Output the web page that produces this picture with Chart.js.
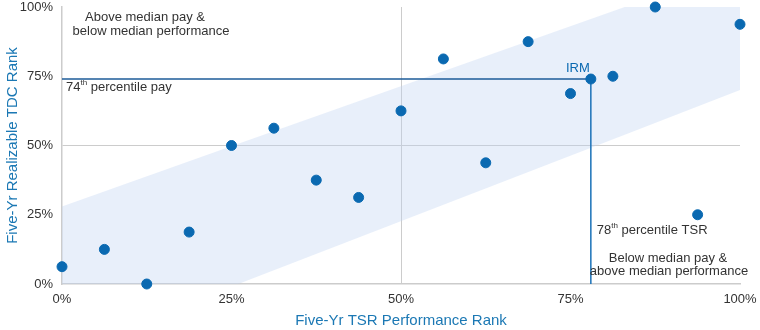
<!DOCTYPE html>
<html lang="en">
<head>
  <meta charset="UTF-8" />
  <title>Pay vs performance</title>
  <style>
    body {
      margin: 0;
      padding: 0;
      background: #fff;
    }
    #wrap {
      width: 760px;
      height: 330px;
    }
  </style>
</head>
<body>
  <div id="wrap"><canvas id="grafico"></canvas></div>

  <script src="https://cdn.jsdelivr.net/npm/chart.js"></script>
  <script>
    // peer group, ranked in percent
    const peerTsr = [0, 6.25, 12.5, 18.75, 25, 31.25, 37.5, 43.75, 50, 56.25, 62.5, 68.75, 75, 81.25, 87.5, 93.75, 100];
    const peerTdc = [6.25, 12.5, 0, 18.75, 50, 56.25, 37.5, 31.25, 62.5, 81.25, 43.75, 87.5, 68.75, 75, 100, 25, 93.75];

    // the company itself
    const irmTsr = 78;
    const irmTdc = 74;

    // alignment band (corners)
    const bandX = [0, 26, 83, 100];
    const bandUpper = [28, 50.6, 100, 100];
    const bandLower = [0, 0, 53.9, 70];

    const tickValues = [0, 25, 50, 75, 100];

    const azul = "#0a69b1";
    const fonte = "'Liberation Sans', Arial, sans-serif";

    const pontos = peerTsr.map((x, i) => ({ x: x, y: peerTdc[i] }));

    const notas = {
      id: "notas",
      afterDatasetsDraw(chart) {
        const { ctx, scales } = chart;
        const sx = v => scales.x.getPixelForValue(v);
        const sy = v => scales.y.getPixelForValue(v);
        ctx.save();
        ctx.font = "13px " + fonte;
        ctx.fillStyle = "#333";
        ctx.textBaseline = "middle";

        // top-left quadrant
        ctx.textAlign = "center";
        ctx.fillText("Above median pay &", 145, 17);
        ctx.fillText("below median performance", 151, 31);

        // bottom-right quadrant
        ctx.fillText("Below median pay &", 668, 258);
        ctx.fillText("above median performance", 669, 271);

        // percentile labels with superscripts
        function comSobrescrito(antes, sup, depois, x, y) {
          ctx.textAlign = "left";
          ctx.font = "13px " + fonte;
          ctx.fillText(antes, x, y);
          let w = ctx.measureText(antes).width;
          ctx.font = "8px " + fonte;
          ctx.fillText(sup, x + w, y - 4);
          w += ctx.measureText(sup).width;
          ctx.font = "13px " + fonte;
          ctx.fillText(depois, x + w, y);
        }
        comSobrescrito("74", "th", " percentile pay", chart.chartArea.left + 4, sy(irmTdc) + 8);
        comSobrescrito("78", "th", " percentile TSR", sx(irmTsr) + 6, 230);

        // company label
        ctx.font = "13px " + fonte;
        ctx.fillStyle = azul;
        ctx.textAlign = "center";
        ctx.fillText("IRM", sx(irmTsr) - 13, sy(irmTdc) - 11);
        ctx.restore();
      }
    };

    const ctx = document.getElementById("grafico").getContext("2d");
    new Chart(ctx, {
      type: "scatter",
      data: {
        datasets: [
          {
            label: "Peers",
            data: pontos,
            backgroundColor: azul,
            borderColor: azul,
            pointRadius: 5,
            pointHoverRadius: 5,
            clip: false,
            order: 0
          },
          {
            label: "IRM",
            data: [{ x: irmTsr, y: irmTdc }],
            backgroundColor: azul,
            borderColor: azul,
            pointRadius: 5,
            clip: false,
            order: 0
          },
          {
            type: "line",
            label: "74th percentile pay",
            data: [{ x: 0, y: irmTdc }, { x: irmTsr, y: irmTdc }],
            borderColor: "#1d5b99",
            borderWidth: 1.5,
            pointRadius: 0,
            fill: false,
            order: 1
          },
          {
            type: "line",
            label: "78th percentile TSR",
            data: [{ x: irmTsr, y: irmTdc }, { x: irmTsr, y: 0 }],
            borderColor: "#1b72b8",
            borderWidth: 1.5,
            pointRadius: 0,
            fill: false,
            order: 1
          },
          {
            type: "line",
            label: "band low",
            data: bandX.map((x, i) => ({ x: x, y: bandLower[i] })),
            borderWidth: 0,
            pointRadius: 0,
            fill: false,
            order: 2
          },
          {
            type: "line",
            label: "band high",
            data: bandX.map((x, i) => ({ x: x, y: bandUpper[i] })),
            borderWidth: 0,
            pointRadius: 0,
            backgroundColor: "rgba(190, 210, 240, 0.36)",
            fill: "-1",
            order: 2
          }
        ]
      },
      options: {
        responsive: true,
        maintainAspectRatio: false,
        animation: false,
        layout: {
          padding: { top: 7, right: 20, left: 0, bottom: 0 }
        },
        plugins: {
          legend: { display: false },
          tooltip: { enabled: false }
        },
        scales: {
          x: {
            type: "linear",
            min: 0,
            max: 100,
            afterBuildTicks: s => { s.ticks = tickValues.map(v => ({ value: v })); },
            afterFit: s => {
              s.height = 46;
              s.paddingLeft = 0;
              s.paddingRight = 0;
            },
            ticks: {
              callback: v => v + "%",
              color: "#333",
              font: { family: fonte, size: 13 },
              padding: 8,
              maxRotation: 0
            },
            grid: {
              drawTicks: false,
              color: c => (c.tick && c.tick.value === 50 ? "#cccccc" : "rgba(0,0,0,0)")
            },
            border: { color: "#cccccc", width: 1.5 },
            title: {
              display: true,
              text: "Five-Yr TSR Performance Rank",
              color: "#1b78b4",
              font: { family: fonte, size: 15 },
              padding: { top: 0, bottom: 0 }
            }
          },
          y: {
            type: "linear",
            min: 0,
            max: 100,
            afterBuildTicks: s => { s.ticks = tickValues.map(v => ({ value: v })); },
            afterFit: s => {
              s.width = 62;
              s.paddingTop = 0;
              s.paddingBottom = 0;
            },
            ticks: {
              callback: v => v + "%",
              color: "#333",
              font: { family: fonte, size: 13 },
              padding: 9
            },
            grid: {
              drawTicks: false,
              color: c => (c.tick && c.tick.value === 50 ? "#cccccc" : "rgba(0,0,0,0)")
            },
            border: { color: "#cccccc", width: 1.5 },
            title: {
              display: true,
              text: "Five-Yr Realizable TDC Rank",
              color: "#1b78b4",
              font: { family: fonte, size: 15 },
              padding: { top: 4, bottom: 0 }
            }
          }
        }
      },
      plugins: [notas]
    });
  </script>
</body>
</html>
